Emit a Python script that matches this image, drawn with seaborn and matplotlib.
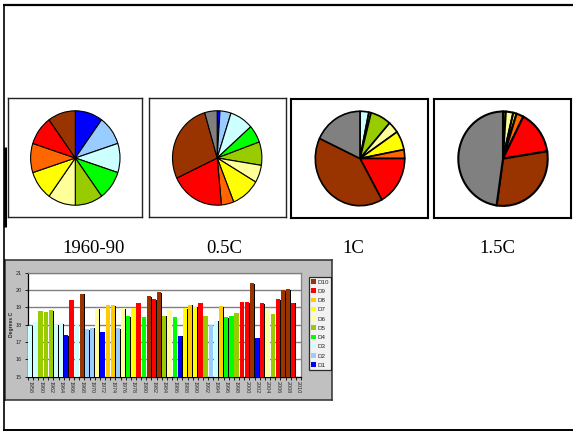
import numpy as np
import pandas as pd
import matplotlib
matplotlib.use("Agg")
import matplotlib.pyplot as plt
from matplotlib.lines import Line2D
from matplotlib.patches import Patch
import seaborn as sns

sns.set_style("white")
plt.rcParams["font.family"] = ["Liberation Sans", "DejaVu Sans"]

# ---------------------------------------------------------------- data
deciles = ["D1", "D2", "D3", "D4", "D5", "D6", "D7", "D8", "D9", "D10"]
bar_colors = ["#0000FF", "#99CCFF", "#CCFFFF", "#00FF00", "#99CC00",
              "#FFFF99", "#FFFF00", "#FFCC00", "#FF0000", "#993300"]

# pie classes: the ten deciles plus the share beyond the old range
pie_classes = deciles + ["beyond D10"]
pie_colors = ["#0000FF", "#99CCFF", "#CCFFFF", "#00FF00", "#99CC00",
              "#FFFF99", "#FFFF00", "#FF6600", "#FF0000", "#993300", "#808080"]

pie_titles = ["1960-90", "0.5C", "1C", "1.5C"]
share_1960_90 = [10, 10, 10, 10, 10, 10, 10, 10, 10, 10, 0]
share_05C = [1, 4, 8.5, 6, 8, 6, 10.5, 4.5, 19.5, 27.5, 4.5]
share_1C = [0, 0, 3.2, 0.8, 7.5, 4, 6.5, 3, 16.9, 40.1, 18]
share_15C = [0, 0, 0, 0, 1, 2.7, 1.2, 2.6, 15, 29.8, 47.7]

years = [str(y) for y in range(1958, 2011)]
summer_temp = [17.95, 18.15, 18.78, 18.74, 18.82, 18.0, 18.07, 17.38, 19.43, 18.02,
               19.8, 17.76, 17.83, 18.92, 17.58, 19.14, 19.14, 17.79, 18.94, 18.5,
               18.95, 19.23, 18.47, 19.63, 19.48, 19.88, 18.53, 18.86, 18.44, 17.37,
               18.95, 19.15, 19.05, 19.28, 18.53, 17.96, 18.24, 19.06, 18.44, 18.53,
               18.68, 19.3, 19.3, 20.4, 17.26, 19.23, 18.93, 18.6, 19.47, 20.0,
               20.05, 19.28]
summer_decile = ["D3", "D3", "D5", "D5", "D5", "D3", "D3", "D1", "D9", "D3",
                 "D10", "D2", "D2", "D6", "D1", "D8", "D8", "D2", "D6", "D4",
                 "D7", "D9", "D4", "D10", "D9", "D10", "D5", "D6", "D4", "D1",
                 "D7", "D8", "D7", "D9", "D5", "D2", "D3", "D8", "D4", "D4",
                 "D5", "D9", "D9", "D10", "D1", "D9", "D6", "D5", "D9", "D10",
                 "D10", "D9"]
y_ticks = [15, 16, 17, 18, 19, 20, 21]

# ---------------------------------------------------------------- figure
W, H = 573, 432
fig = plt.figure(figsize=(W / 100, H / 100), dpi=100)
fig.patch.set_facecolor("white")


def fx(px):
    return px / W


def fy(py):
    return 1 - py / H


def frame_line(x0, y0, x1, y1, lw):
    fig.add_artist(Line2D([fx(x0), fx(x1)], [fy(y0), fy(y1)],
                          transform=fig.transFigure, color="black",
                          lw=lw, solid_capstyle="butt"))


# page frame
frame_line(3, 4.5, 573, 4.5, 1.6)
frame_line(3.5, 3.5, 3.5, 431, 1.2)
frame_line(3, 430, 573, 430, 1.4)
frame_line(4.5, 147, 4.5, 227, 2.2)

# ---------------------------------------------------------------- pies
# box (left, top, right, bottom) and pie centre, in pixels
pie_boxes = [(8.3, 98.3, 141.7, 217.3), (149, 98.3, 285.7, 217.3),
             (291, 99.3, 428.3, 217.7), (434, 99.3, 571, 218.3)]
pie_centres = [(75.3, 158), (217.2, 158), (360, 158.5), (503, 158.7)]
pie_title_x = [94, 224, 353.7, 497.5]
box_lw = [1.0, 1.0, 1.5, 1.5]
wedge_lw = [0.8, 0.8, 1.2, 1.5]
rx, ry = 44.7, 47.2

shares = [share_1960_90, share_05C, share_1C, share_15C]
for i, vals in enumerate(shares):
    x0, y0, x1, y1 = pie_boxes[i]
    cx, cy = pie_centres[i]
    ax = fig.add_axes([fx(x0), fy(y1), fx(x1 - x0), (y1 - y0) / H])
    keep = [k for k, v in enumerate(vals) if v > 0]
    ax.pie([vals[k] for k in keep], colors=[pie_colors[k] for k in keep],
           startangle=90, counterclock=False, normalize=True,
           wedgeprops=dict(edgecolor="black", linewidth=wedge_lw[i]))
    ax.set_aspect("auto")
    ax.set_xlim((x0 - cx) / rx, (x1 - cx) / rx)
    ax.set_ylim((cy - y1) / ry, (cy - y0) / ry)
    ax.set_xticks([])
    ax.set_yticks([])
    ax.set_frame_on(True)
    for s in ax.spines.values():
        s.set_visible(True)
        s.set_color("black" if i >= 2 else "#222222")
        s.set_linewidth(box_lw[i])
    fig.text(fx(pie_title_x[i]), fy(253), pie_titles[i], ha="center",
             va="baseline", fontsize=13.5, color="black",
             family=["Liberation Serif", "DejaVu Serif"])

# ---------------------------------------------------------------- bar chart
panel = fig.add_axes([fx(5), fy(400), fx(332.3 - 5), 140 / H])
panel.set_facecolor("#C0C0C0")
panel.set_xticks([])
panel.set_yticks([])
for s in panel.spines.values():
    s.set_visible(True)
    s.set_color("#303030")
    s.set_linewidth(1.1)

ax = fig.add_axes([fx(27.7), fy(376.7), fx(301 - 27.7), (376.7 - 272.7) / H])
ax.set_facecolor("white")

df = pd.DataFrame({"year": years[:len(summer_temp)],
                   "temp": summer_temp,
                   "decile": summer_decile})

# dark shadow behind each bar
sns.barplot(data=df, x="year", y="temp", order=years, color="black",
            saturation=1, width=0.82, linewidth=0, errorbar=None, ax=ax)
for p in ax.patches:
    p.set_x(p.get_x() + 0.12)
    p.set_y(p.get_y() - 0.04)
    p.set_zorder(2)

sns.barplot(data=df, x="year", y="temp", order=years, hue="decile",
            hue_order=deciles, palette=dict(zip(deciles, bar_colors)),
            dodge=False, saturation=1, width=0.82, linewidth=0,
            errorbar=None, legend=False, ax=ax)
for p in ax.patches[len(summer_temp):]:
    p.set_zorder(3)

ax.set_ylim(15, 21)
ax.set_xlim(-0.5, len(years) - 0.5)
ax.set_yticks(y_ticks)
ax.set_yticklabels([str(t) for t in y_ticks], fontsize=4)
ax.yaxis.grid(True, color="#808080", linewidth=1.0, zorder=1)
ax.set_axisbelow(True)
ax.set_xticks(range(0, len(years), 2))
ax.set_xticklabels(years[::2], rotation=270, fontsize=3.9, ha="center", va="top")
ax.set_xticks(np.arange(-0.5, len(years), 1), minor=True)
ax.tick_params(axis="x", which="major", length=0, pad=3)
ax.tick_params(axis="x", which="minor", length=2, width=0.6, color="black",
               direction="out", bottom=True)
ax.tick_params(axis="y", length=2, width=0.6, color="black", direction="out",
               left=True, pad=2)
ax.set_xlabel("")
ax.set_ylabel("Degrees C", fontsize=3.6, fontweight="bold", labelpad=1.5)
for side in ["left", "bottom"]:
    ax.spines[side].set_color("black")
    ax.spines[side].set_linewidth(0.9)
for side in ["top", "right"]:
    ax.spines[side].set_color("#808080")
    ax.spines[side].set_linewidth(0.9)

handles = [Patch(facecolor=c, edgecolor="none") for c in bar_colors][::-1]
leg = ax.legend(handles, deciles[::-1], loc="upper left",
                bbox_to_anchor=(fx(309), fy(277)),
                bbox_transform=fig.transFigure, fontsize=4.5, frameon=True,
                fancybox=False, shadow=False, borderaxespad=0, borderpad=0.35,
                handlelength=0.7, handleheight=0.7, handletextpad=0.3,
                labelspacing=0.62)
leg.get_frame().set_edgecolor("black")
leg.get_frame().set_linewidth(0.9)
leg.get_frame().set_facecolor("white")

fig.savefig("out.png", dpi=100, facecolor="white")
